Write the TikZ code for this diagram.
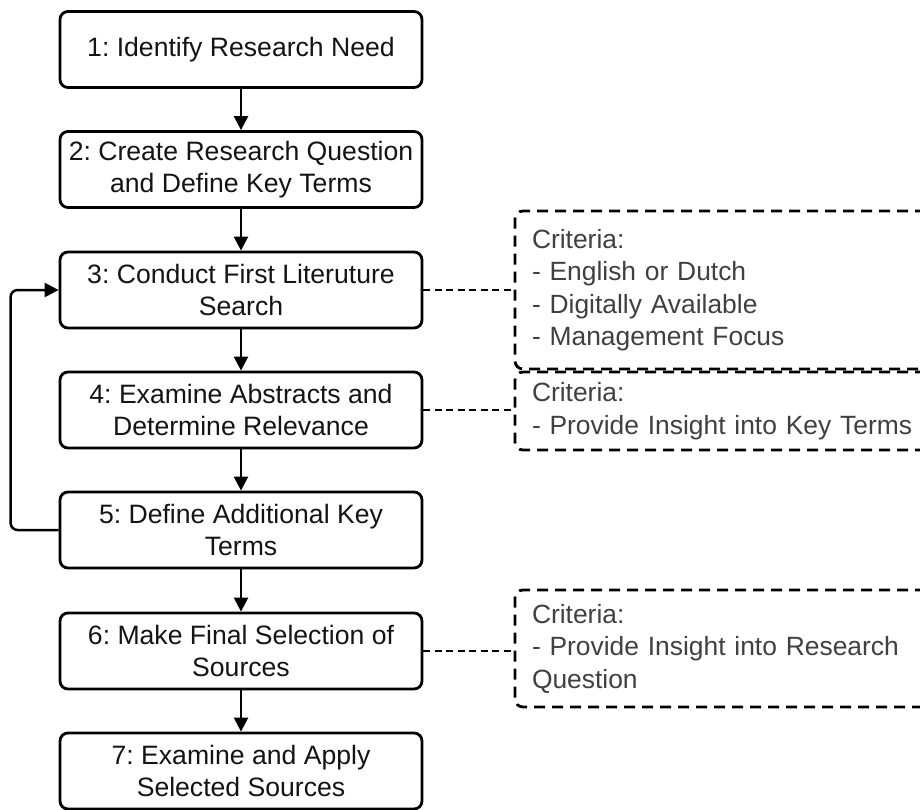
\documentclass[tikz,border=0pt]{standalone}
\usepackage{fontspec}
\setmainfont{Liberation Sans}
\usetikzlibrary{arrows.meta}
\begin{document}
\frenchspacing
\begin{tikzpicture}[x=1pt,y=-1pt,
  stepbox/.style={draw=black, line width=2.8pt, rounded corners=8pt, minimum width=362pt, minimum height=76pt, inner sep=0pt, align=center, font=\fontsize{26.6}{32}\selectfont, text=black!92},
  critbox/.style={draw=black, line width=2.8pt, dash pattern=on 11pt off 7pt, rounded corners=8pt, inner xsep=17pt, inner ysep=0pt, text width=385pt, align=left, font=\fontsize{26.4}{32.5}\selectfont, text=black!75},
  flow/.style={line width=2.5pt, -{Triangle[length=14pt,width=14pt]}},
  link/.style={line width=1.6pt, dash pattern=on 7pt off 4.5pt},
]
\useasboundingbox (0,0) rectangle (920,810);
\clip (0,0) rectangle (920,810);
\fill[white] (0,0) rectangle (920,810);

\node[stepbox] (s1) at (241,49.5) {1: Identify Research Need};
\node[stepbox] (s2) at (241,169.5) {2: Create Research Question\\and Define Key Terms};
\node[stepbox] (s3) at (241,290) {3: Conduct First Literuture\\Search};
\node[stepbox] (s4) at (241,410) {4: Examine Abstracts and\\Determine Relevance};
\node[stepbox] (s5) at (241,530) {5: Define Additional Key\\Terms};
\node[stepbox] (s6) at (241,651) {6: Make Final Selection of\\Sources};
\node[stepbox] (s7) at (241,771) {7: Examine and Apply\\Selected Sources};

\node[critbox, minimum height=158pt] (cA) at (724.5,290) {Criteria:\\- English or Dutch\\- Digitally Available\\- Management Focus};
\node[critbox, minimum height=78pt] (cB) at (724.5,411) {Criteria:\\- Provide Insight into Key Terms};
\node[critbox, minimum height=117pt] (cC) at (724.5,648.5) {Criteria:\\- Provide Insight into Research\\Question};

\draw[flow] (s1) -- (s2);
\draw[flow] (s2) -- (s3);
\draw[flow] (s3) -- (s4);
\draw[flow] (s4) -- (s5);
\draw[flow] (s5) -- (s6);
\draw[flow] (s6) -- (s7);

\draw[flow, rounded corners=7pt] (s5.west) -- ++(-48,0) |- (s3.west);

\draw[link] (s3.east) -- (s3.east -| cA.west);
\draw[link] (s4.east) -- (s4.east -| cB.west);
\draw[link] (s6.east) -- (s6.east -| cC.west);
\end{tikzpicture}
\end{document}
